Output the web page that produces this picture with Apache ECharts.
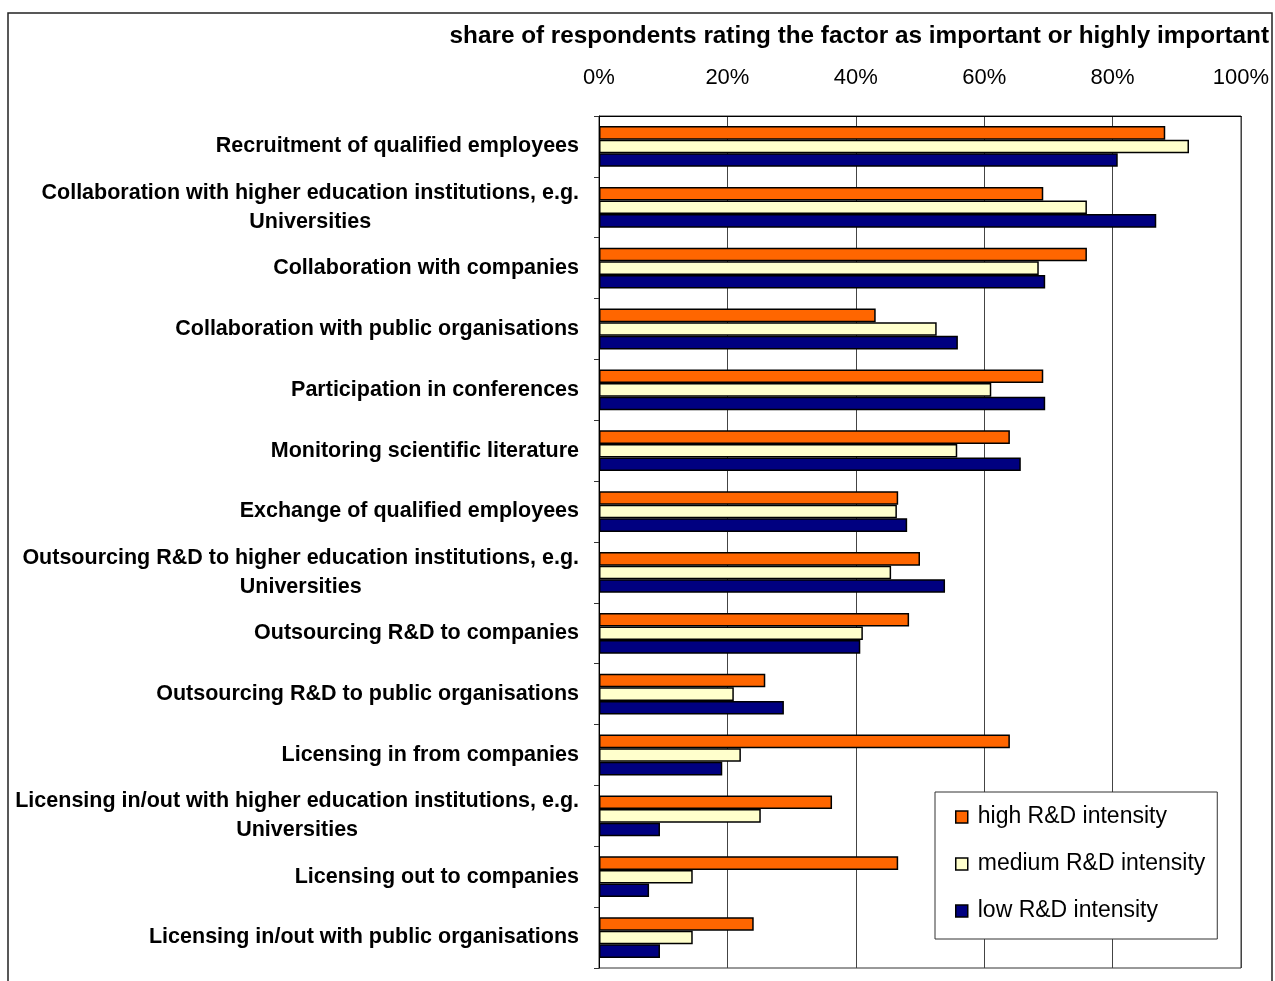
<!DOCTYPE html>
<html>
<head>
<meta charset="utf-8">
<script src="https://cdn.jsdelivr.net/npm/echarts@6/dist/echarts.min.js"></script>
<style>
  html, body { margin: 0; padding: 0; background: #fff; }
  #chart { width: 1275px; height: 981px; }
</style>
</head>
<body>
<div id="chart"></div>
<script>
// Knowledge-exchange channels, share of respondents (%) by R&D intensity
const categories = [
  'Recruitment of qualified employees',
  'Collaboration with higher education institutions, e.g.\nUniversities',
  'Collaboration with companies',
  'Collaboration with public organisations',
  'Participation in conferences',
  'Monitoring scientific literature',
  'Exchange of qualified employees',
  'Outsourcing R&D to higher education institutions, e.g.\nUniversities',
  'Outsourcing R&D to companies',
  'Outsourcing R&D to public organisations',
  'Licensing in from companies',
  'Licensing in/out with higher education institutions, e.g.\nUniversities',
  'Licensing out to companies',
  'Licensing in/out with public organisations'
];
const seriesNames = ['high R&D intensity', 'medium R&D intensity', 'low R&D intensity'];
const highValues   = [88.2, 69.2, 76.0, 43.1, 69.2, 64.0, 46.6, 50.0, 48.3, 25.9, 64.0, 36.3, 46.6, 24.1];
const mediumValues = [91.9, 76.0, 68.5, 52.6, 61.1, 55.8, 46.4, 45.5, 41.1, 21.0, 22.1, 25.2, 14.6, 14.6];
const lowValues    = [80.8, 86.8, 69.5, 55.9, 69.5, 65.7, 48.0, 53.9, 40.7, 28.8, 19.2,  9.5,  7.8,  9.5];
const axisTitle = 'share of respondents rating the factor as important or highly important';

const colors = ['#FF6600', '#FFFFCC', '#000080'];
const FONT = 'Arial, "Liberation Sans", sans-serif';

const chart = echarts.init(document.getElementById('chart'), null, { renderer: 'canvas' });

function barSeries(name, data, color) {
  return {
    name: name,
    type: 'bar',
    data: data,
    barGap: '0%',
    barCategoryGap: '33%',
    itemStyle: { color: color, borderColor: '#000', borderWidth: 1.5 },
    emphasis: { disabled: true }
  };
}

chart.setOption({
  animation: false,
  textStyle: { fontFamily: FONT, color: '#000' },
  title: {
    text: axisTitle,
    right: 6,
    top: 24,
    padding: 0,
    textStyle: { fontFamily: FONT, fontSize: 24.3, fontWeight: 'bold', color: '#000' }
  },
  graphic: [{
    type: 'rect',
    shape: { x: 8, y: 13, width: 1264, height: 990 },
    style: { fill: null, stroke: '#222', lineWidth: 1.5 },
    silent: true,
    z: -1
  }],
  grid: {
    left: 599,
    right: 34,
    top: 116,
    bottom: 13,
    show: true,
    borderColor: '#333',
    borderWidth: 1,
    backgroundColor: 'transparent'
  },
  legend: {
    data: seriesNames,
    orient: 'vertical',
    left: 935,
    top: 792,
    padding: [12, 12, 15, 20],
    itemGap: 21,
    itemWidth: 12,
    itemHeight: 12,
    icon: 'rect',
    backgroundColor: '#fff',
    borderColor: '#333',
    borderWidth: 1,
    itemStyle: { borderColor: '#000', borderWidth: 1.5 },
    textStyle: { fontFamily: FONT, fontSize: 23, color: '#000', lineHeight: 26, padding: [0, 0, 0, 5] }
  },
  xAxis: {
    type: 'value',
    position: 'top',
    min: 0,
    max: 100,
    interval: 20,
    axisLine: { show: true, lineStyle: { color: '#000', width: 1 } },
    axisTick: { show: false },
    splitLine: { show: true, lineStyle: { color: '#444', width: 1 } },
    axisLabel: {
      formatter: '{value}%',
      fontFamily: FONT,
      fontSize: 22,
      color: '#000',
      margin: 27
    }
  },
  yAxis: {
    type: 'category',
    data: categories,
    inverse: true,
    axisLine: { show: true, lineStyle: { color: '#000', width: 1 } },
    axisTick: { show: true, length: 5, alignWithLabel: false, lineStyle: { color: '#333' } },
    axisLabel: {
      margin: 20,
      interval: 0,
      formatter: function (v) {
        return v.split('\n').map(function (line) { return '{c|' + line + '}'; }).join('\n');
      },
      rich: {
        c: {
          align: 'center',
          fontFamily: FONT,
          fontSize: 21.5,
          fontWeight: 'bold',
          color: '#000',
          lineHeight: 29
        }
      }
    }
  },
  series: [
    barSeries(seriesNames[0], highValues, colors[0]),
    barSeries(seriesNames[1], mediumValues, colors[1]),
    barSeries(seriesNames[2], lowValues, colors[2])
  ]
});
</script>
</body>
</html>
